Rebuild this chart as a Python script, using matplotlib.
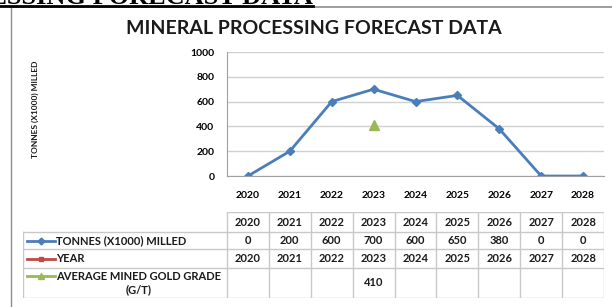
import numpy as np
import matplotlib.pyplot as plt
from matplotlib.lines import Line2D

# --- DATA ---
years = [2020, 2021, 2022, 2023, 2024, 2025, 2026, 2027, 2028]
tonnes_milled = [0, 200, 600, 700, 600, 650, 380, 0, 0]
year_series = [2020, 2021, 2022, 2023, 2024, 2025, 2026, 2027, 2028]
gold_grade = [None, None, None, 410, None, None, None, None, None]
y_ticks = [0, 200, 400, 600, 800, 1000]

series_names = ["TONNES (X1000) MILLED", "YEAR", "AVERAGE MINED GOLD GRADE\n(G/T)"]
series_colors = ["#4A7EBB", "#BE4B48", "#98B954"]
series_markers = ["D", "s", "^"]

FONT = "Lato"
W, H = 612, 307


def fig_rect(left, top, right, bottom):
    # pixel box -> figure fraction
    return [left / W, 1 - bottom / H, (right - left) / W, (bottom - top) / H]


fig = plt.figure(figsize=(W / 100, H / 100), dpi=100)
fig.patch.set_facecolor("white")

# frame bits of the surrounding page (heading is cut off at the top, as in the source)
fig.add_artist(Line2D([10 / W, 1], [1 - 7 / H, 1 - 7 / H], color="#8C8C8C", lw=1.2))
fig.add_artist(Line2D([11 / W, 11 / W], [0, 1 - 7 / H], color="#8C8C8C", lw=1.0))
fig.text(313 / W, 1 - 4 / H, "MINERAL PROCESSING FORECAST DATA", ha="right", va="baseline",
         family="Liberation Serif", fontweight="bold", fontsize=19)
fig.add_artist(Line2D([0, 313 / W], [1 - 5.5 / H, 1 - 5.5 / H], color="black", lw=2))

fig.text(314 / W, 1 - 28 / H, "MINERAL PROCESSING FORECAST DATA", ha="center", va="center",
         family=FONT, fontweight="bold", fontsize=14, color="#1A1A1A")
fig.text(35 / W, 1 - 109 / H, "TONNES (X1000) MILLED", rotation=90, ha="center", va="center",
         family=FONT, fontweight="bold", fontsize=6, color="#1A1A1A")

# --- CHART ---
ax = fig.add_axes(fig_rect(227, 52, 604, 176))
x = np.arange(len(years))
ax.plot(x, tonnes_milled, color=series_colors[0], marker=series_markers[0], ms=4.5, lw=2)
ax.plot(x, year_series, color=series_colors[1], marker=series_markers[1], ms=4.5, lw=2)
gx = [i for i, v in enumerate(gold_grade) if v is not None]
gy = [v for v in gold_grade if v is not None]
ax.plot(gx, gy, color=series_colors[2], marker=series_markers[2], ms=7, lw=0)

ax.set_xlim(-0.5, len(years) - 0.5)
ax.set_ylim(0, 1000)
ax.set_yticks(y_ticks)
ax.set_yticklabels([str(v) for v in y_ticks], family=FONT, fontweight="bold", fontsize=7.5)
ax.set_xticks(x)
ax.set_xticklabels([str(y) for y in years], family=FONT, fontweight="bold", fontsize=7.5)
ax.tick_params(length=0, pad=9)
ax.tick_params(axis="x", pad=11)
ax.grid(axis="y", color="#D0D0D0", lw=1)
ax.set_axisbelow(True)
for s in ["top", "right"]:
    ax.spines[s].set_visible(False)
for s in ["left", "bottom"]:
    ax.spines[s].set_color("#A0A0A0")

# --- DATA TABLE ---
cat_w = (604 - 227) / len(years)
label_w = (227 - 23) / cat_w
tx = fig.add_axes(fig_rect(23, 212, 604, 298))
tx.set_xlim(-0.5 - label_w, len(years) - 0.5)
row_edges = [0, 20, 37, 56, 86]
tx.set_ylim(row_edges[-1], 0)
tx.axis("off")

gc = "#C8C8C8"
left = -0.5 - label_w
right = len(years) - 0.5
tx.plot([-0.5, right], [row_edges[0]] * 2, color=gc, lw=1)
for e in row_edges[1:]:
    tx.plot([left, right], [e, e], color=gc, lw=1)
tx.plot([left, left], [row_edges[1], row_edges[-1]], color=gc, lw=1)
for i in range(len(years) + 1):
    tx.plot([i - 0.5, i - 0.5], [row_edges[0], row_edges[-1]], color=gc, lw=1)

tfont = dict(family=FONT, fontweight="bold", fontsize=8, color="#1A1A1A", ha="center", va="center")
hy = (row_edges[0] + row_edges[1]) / 2
for i, y in enumerate(years):
    tx.text(i, hy, str(y), **tfont)

rows = [tonnes_milled, year_series, gold_grade]
for r, vals in enumerate(rows):
    cy = (row_edges[r + 1] + row_edges[r + 2]) / 2
    for i, v in enumerate(vals):
        if v is not None:
            tx.text(i, cy, str(v), **tfont)
    # legend key
    ky = cy if r < 2 else row_edges[r + 1] + 8
    x0 = left + 4 / cat_w
    x1 = left + 32 / cat_w
    tx.plot([x0, x1], [ky, ky], color=series_colors[r], lw=2)
    tx.plot([(x0 + x1) / 2], [ky], color=series_colors[r], marker=series_markers[r],
            ms=3.5 if r < 2 else 5)
    if r < 2:
        tx.text(x1 + 1 / cat_w, cy, series_names[r], family=FONT, fontweight="bold",
                fontsize=8, color="#1A1A1A", ha="left", va="center")
    else:
        tx.text(left + 116 / cat_w, cy, series_names[r], family=FONT, fontweight="bold",
                fontsize=8, color="#1A1A1A", ha="center", va="center", linespacing=1.3)

fig.savefig("out.png", dpi=100)
